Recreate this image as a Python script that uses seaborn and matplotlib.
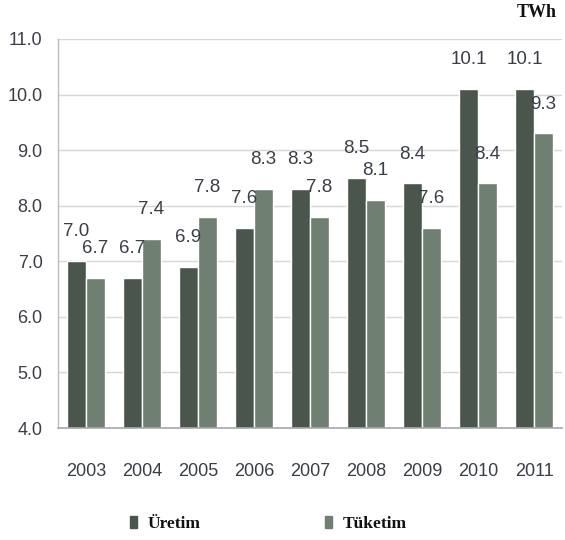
import matplotlib
matplotlib.use("Agg")
import matplotlib.pyplot as plt
from matplotlib.patches import Patch
import seaborn as sns
import pandas as pd

# Annual electricity production and consumption (TWh)
years = ["2003", "2004", "2005", "2006", "2007", "2008", "2009", "2010", "2011"]
uretim = [7.0, 6.7, 6.9, 7.6, 8.3, 8.5, 8.4, 10.1, 10.1]
tuketim = [6.7, 7.4, 7.8, 8.3, 7.8, 8.1, 7.6, 8.4, 9.3]
series_names = ["Üretim", "Tüketim"]
y_ticks = [4.0, 5.0, 6.0, 7.0, 8.0, 9.0, 10.0, 11.0]

dark = "#4a554c"
light = "#6f8073"
text_col = "#3a3e47"
sans = ["Liberation Sans", "DejaVu Sans"]
serif = ["Liberation Serif", "DejaVu Serif"]

df = pd.DataFrame({
    "Yıl": years * 2,
    "TWh": uretim + tuketim,
    "Seri": [series_names[0]] * len(years) + [series_names[1]] * len(years),
})

sns.set_theme(style="white")
fig = plt.figure(figsize=(5.65, 5.4), dpi=100)
ax = fig.add_axes([0.1027, 0.2074, 0.892, 0.7204])

sns.barplot(data=df, x="Yıl", y="TWh", hue="Seri", hue_order=series_names,
            palette=[dark, light], saturation=1, width=0.68, gap=0.03,
            legend=False, ax=ax, errorbar=None)

ax.set_ylim(4.0, 11.0)
ax.set_xlim(-0.5, len(years) - 0.5)
ax.set_yticks(y_ticks)
ax.set_yticklabels([f"{v:.1f}" for v in y_ticks])
ax.yaxis.grid(True, color="#d6d6d6", linewidth=1.0)
ax.set_axisbelow(True)
ax.set_xlabel("")
ax.set_ylabel("")

for side in ["top", "right"]:
    ax.spines[side].set_visible(False)
ax.spines["left"].set_color("#bdbdbd")
ax.spines["bottom"].set_color("#a8a8a8")
ax.spines["left"].set_linewidth(1.0)
ax.spines["bottom"].set_linewidth(1.2)

ax.tick_params(axis="x", length=0, pad=25, labelsize=13, labelcolor=text_col)
ax.tick_params(axis="y", length=0, pad=11, labelsize=13, labelcolor=text_col)
for lab in ax.get_xticklabels() + ax.get_yticklabels():
    lab.set_family(sans)

for cont, vals in zip(ax.containers, [uretim, tuketim]):
    ax.bar_label(cont, labels=[f"{v:.1f}" for v in vals], padding=15,
                 fontsize=13.5, color=text_col, family=sans)

fig.text(0.985, 0.992, "TWh", ha="right", va="top", fontsize=13,
         fontweight="bold", family=serif, color="#111111")

handles = [Patch(facecolor=c, edgecolor=c) for c in (dark, light)]
leg = fig.legend(handles, series_names, loc="center", bbox_to_anchor=(0.475, 0.03),
                 ncol=2, frameon=False, columnspacing=7.2, handletextpad=0.6,
                 handlelength=0.4, handleheight=0.75,
                 prop={"family": serif, "weight": "bold", "size": 12.5})
for t in leg.get_texts():
    t.set_color("#111111")

fig.savefig("out.png", dpi=100)
